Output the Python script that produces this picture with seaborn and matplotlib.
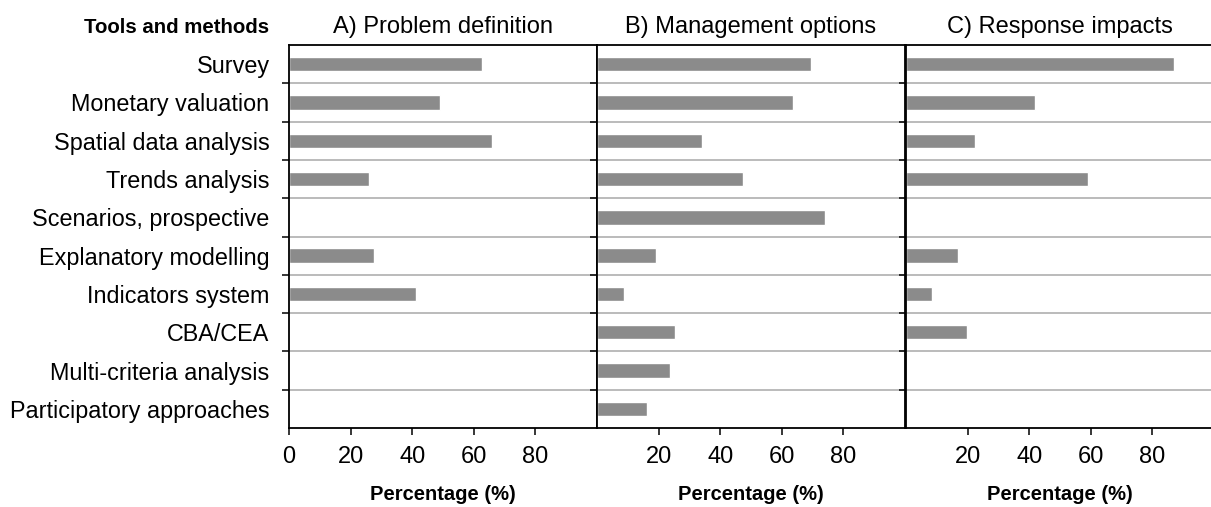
import numpy as np
import pandas as pd
import matplotlib
matplotlib.use('Agg')
import matplotlib.pyplot as plt
import seaborn as sns

# 데이터
tools = ['Survey', 'Monetary valuation', 'Spatial data analysis', 'Trends analysis',
         'Scenarios, prospective', 'Explanatory modelling', 'Indicators system',
         'CBA/CEA', 'Multi-criteria analysis', 'Participatory approaches']
problem_definition = [62.7, 49, 65.8, 26, 0, 27.5, 41.3, 0, 0, 0]
management_options = [69.4, 63.7, 34, 47.4, 74, 19.3, 8.8, 25.3, 23.7, 16.2]
response_impacts = [87, 42, 22.5, 59, 0, 17, 8.5, 19.7, 0, 0]
panel_titles = ['A) Problem definition', 'B) Management options', 'C) Response impacts']

df = pd.DataFrame({'tool': tools,
                   panel_titles[0]: problem_definition,
                   panel_titles[1]: management_options,
                   panel_titles[2]: response_impacts})
df_long = df.melt(id_vars='tool', var_name='panel', value_name='pct')

sns.set_style('white')
plt.rcParams['font.family'] = ['Liberation Sans', 'DejaVu Sans']
plt.rcParams['text.color'] = 'black'
plt.rcParams['axes.labelcolor'] = 'black'
plt.rcParams['xtick.color'] = 'black'
plt.rcParams['ytick.color'] = 'black'

fig = plt.figure(figsize=(12.11, 5.07), dpi=100)
lefts = [289 / 1211, 597 / 1211, 906 / 1211]
w = 308 / 1211
bottom = 1 - 428 / 507
h = (428 - 45) / 507

for i, title in enumerate(panel_titles):
    ax = fig.add_axes([lefts[i], bottom, w, h])
    sub = df_long[df_long['panel'] == title]
    sns.barplot(data=sub, x='pct', y='tool', order=tools, ax=ax,
                color='#8b8b8b', saturation=1, width=0.375, errorbar=None)
    ax.set_xlim(0, 100)
    ax.set_ylim(9.5, -0.5)
    ax.set_title(title, fontsize=17, pad=9, color='black')
    ax.set_xlabel('Percentage (%)', fontsize=14.5, fontweight='bold', labelpad=12)
    ax.set_ylabel('')
    if i == 0:
        ax.set_xticks([0, 20, 40, 60, 80])
    else:
        ax.set_xticks([20, 40, 60, 80])
    ax.tick_params(axis='x', which='major', length=5, width=1.1, direction='out',
                   labelsize=17, pad=8, color='black', bottom=True)
    # 카테고리 경계에 보조 눈금과 격자선
    ax.set_yticks(np.arange(0.5, 9, 1), minor=True)
    ax.tick_params(axis='y', which='major', length=0, labelsize=16.8, pad=14)
    ax.tick_params(axis='y', which='minor', length=5, width=1.1, direction='out',
                   color='black', left=True)
    ax.grid(which='minor', axis='y', color='#a8a8a8', linewidth=1.1)
    ax.grid(which='major', axis='both', visible=False)
    ax.set_axisbelow(True)
    if i > 0:
        ax.set_yticklabels([])
    for sp in ax.spines.values():
        sp.set_visible(True)
        sp.set_color('black')
        sp.set_linewidth(1.3)

fig.text(269 / 1211, 1 - 33 / 507, 'Tools and methods', ha='right', va='baseline',
         fontsize=14.7, fontweight='bold')

plt.savefig('out.png', dpi=100)
